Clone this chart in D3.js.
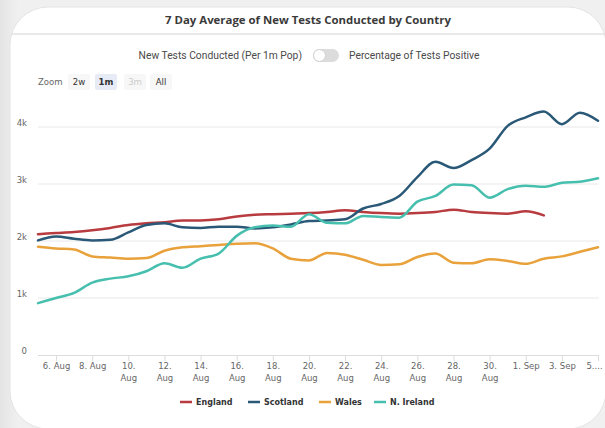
<!DOCTYPE html>
<html>
<head>
<meta charset="utf-8">
<script src="https://cdn.jsdelivr.net/npm/d3@7"></script>
<style>
  body { margin: 0; background: #ececec; }
  svg { display: block; }
</style>
</head>
<body>
<div id="chart"></div>
<script>
// data: 7 day average of new tests per 1m pop, one value per day from 5 Aug 2020
const startDate = '2020-08-05'
const england  = [2120,2140,2160,2190,2230,2280,2310,2330,2360,2360,2380,2430,2460,2470,2480,2490,2510,2540,2510,2490,2480,2490,2510,2550,2510,2490,2480,2520,2450]
const scotland = [2010,2080,2040,2010,2020,2150,2280,2310,2240,2230,2250,2250,2220,2240,2290,2350,2360,2380,2570,2650,2790,3120,3390,3280,3420,3620,4020,4170,4270,4050,4250,4110]
const wales    = [1900,1870,1850,1730,1710,1690,1700,1830,1890,1910,1930,1950,1960,1870,1690,1660,1790,1760,1670,1580,1590,1720,1780,1620,1610,1680,1650,1600,1690,1730,1810,1890]
const nIreland = [910,1000,1090,1270,1340,1380,1470,1610,1530,1690,1780,2090,2240,2270,2250,2470,2320,2310,2440,2420,2410,2690,2790,2990,2980,2760,2910,2970,2950,3020,3040,3100]

const seriesNames  = ['England', 'Scotland', 'Wales', 'N. Ireland']
const seriesColors = ['#b83b40', '#2a5877', '#e9a23b', '#47bfae']
const yTicks = [0, 1000, 2000, 3000, 4000]
const yTickLabels = ['0', '1k', '2k', '3k', '4k']
const xTickDates = ['2020-08-06','2020-08-08','2020-08-10','2020-08-12','2020-08-14','2020-08-16','2020-08-18',
                    '2020-08-20','2020-08-22','2020-08-24','2020-08-26','2020-08-28','2020-08-30','2020-09-01',
                    '2020-09-03','2020-09-05']
const xTickLabels = ['6. Aug','8. Aug','10.|Aug','12.|Aug','14.|Aug','16.|Aug','18.|Aug','20.|Aug','22.|Aug',
                     '24.|Aug','26.|Aug','28.|Aug','30.|Aug','1. Sep','3. Sep','5....']
const zoomButtons = ['2w', '1m', '3m', 'All']

const parseDate = d3.timeParse('%Y-%m-%d')
const day0 = parseDate(startDate)
const toPoints = arr => arr.map((v, i) => ({date: d3.timeDay.offset(day0, i), value: v}))
const allSeries = [england, scotland, wales, nIreland].map((arr, i) => ({
  name: seriesNames[i], color: seriesColors[i], points: toPoints(arr)
}))

const chart = {'width': 605, 'height': 428}
const plot = {'left': 38, 'right': 598, 'bottom': 355}

const svg = d3.select('#chart')
  .append('svg')
    .attr('width', chart.width)
    .attr('height', chart.height)

// card background
const defs = svg.append('defs')
const grad = defs.append('linearGradient').attr('id', 'bg').attr('x1', 0).attr('x2', 1)
grad.append('stop').attr('offset', 0).attr('stop-color', '#e4e4e4')
grad.append('stop').attr('offset', 0.03).attr('stop-color', '#f0f0f0')
grad.append('stop').attr('offset', 1).attr('stop-color', '#f0f0f0')
svg.append('rect').attr('width', chart.width).attr('height', chart.height).attr('fill', 'url(#bg)')
svg.append('rect')
  .attr('x', 10).attr('y', 7)
  .attr('width', 596).attr('height', 422)
  .attr('rx', 38)
  .attr('fill', '#fff')
  .attr('stroke', '#e4e4e4')

// title + separator
svg.append('text')
  .attr('x', 308).attr('y', 24)
  .attr('text-anchor', 'middle')
  .attr('font-family', 'Open Sans, sans-serif')
  .attr('font-weight', 'bold')
  .attr('font-size', '11.4px')
  .attr('fill', '#3a3a3a')
  .text('7 Day Average of New Tests Conducted by Country')
svg.append('line')
  .attr('x1', 12).attr('x2', 605)
  .attr('y1', 34).attr('y2', 34)
  .attr('stroke', '#e2e2e2')
  .attr('stroke-width', 1.5)

// toggle
const toggle = svg.append('g').attr('font-family', 'Roboto, sans-serif').attr('font-size', '10.3px').attr('fill', '#4a4a4a')
toggle.append('text').attr('x', 302).attr('y', 59).attr('text-anchor', 'end').text('New Tests Conducted (Per 1m Pop)')
toggle.append('text').attr('x', 349).attr('y', 59).text('Percentage of Tests Positive')
toggle.append('rect').attr('x', 313).attr('y', 49).attr('width', 26).attr('height', 13).attr('rx', 6.5).attr('fill', '#dcdcdc')
toggle.append('circle').attr('cx', 319.5).attr('cy', 55.5).attr('r', 6).attr('fill', '#fff').attr('stroke', '#d0d0d0')

// zoom buttons
const zoomG = svg.append('g').attr('font-family', 'DejaVu Sans, sans-serif').attr('font-size', '8.5px')
zoomG.append('text').attr('x', 38).attr('y', 85).attr('fill', '#666').text('Zoom')
const btnX = [68, 95, 124, 150]
zoomButtons.forEach((b, i) => {
  const g = zoomG.append('g').attr('transform', `translate(${btnX[i]}, 74)`)
  g.append('rect').attr('width', 22).attr('height', 16).attr('rx', 2)
    .attr('fill', i === 1 ? '#e6ebf5' : '#f7f7f7')
  g.append('text').attr('x', 11).attr('y', 11).attr('text-anchor', 'middle')
    .attr('font-weight', i === 1 ? 'bold' : 'normal')
    .attr('fill', i === 2 ? '#cccccc' : '#333')
    .text(b)
})

// scales (57px per 1k)
const xScale = d3.scaleTime()
  .domain([day0, d3.timeDay.offset(day0, 31)])
  .range([plot.left, plot.right])
const yScale = d3.scaleLinear()
  .domain([0, 1000])
  .range([plot.bottom, plot.bottom - 57])

// gridlines
svg.append('g')
  .selectAll('line')
  .data(yTicks.slice(1))
  .join('line')
    .attr('x1', plot.left).attr('x2', 599)
    .attr('y1', d => yScale(d)).attr('y2', d => yScale(d))
    .attr('stroke', '#e8e8e8')

// y labels
svg.append('g')
  .attr('font-family', 'DejaVu Sans, sans-serif')
  .attr('font-size', '8.5px')
  .attr('fill', '#666')
  .selectAll('text')
  .data(yTicks)
  .join('text')
    .attr('x', 27)
    .attr('y', d => yScale(d) - 1)
    .attr('text-anchor', 'end')
    .text((d, i) => yTickLabels[i])

// x axis
const xAxis = d3.axisBottom(xScale)
  .tickValues(xTickDates.map(parseDate))
  .tickSize(6)
  .tickFormat('')
const bottomAxis = svg.append('g')
  .attr('class', 'axis-x')
  .attr('transform', `translate(0, ${plot.bottom})`)
  .call(xAxis)
bottomAxis.select('.domain').attr('stroke', '#dcdcdc').attr('d', `M${plot.left},0.5H599`)
bottomAxis.selectAll('.tick line').attr('stroke', '#dcdcdc')
bottomAxis.selectAll('.tick').each(function(d, i) {
  const lines = xTickLabels[i].split('|')
  const t = d3.select(this).append('text')
    .attr('fill', '#666')
    .attr('font-family', 'DejaVu Sans, sans-serif')
    .attr('font-size', '8.5px')
    .attr('text-anchor', 'middle')
  lines.forEach((l, j) => t.append('tspan').attr('x', i === xTickLabels.length - 1 ? -4 : 0).attr('y', 14 + j * 12).text(l))
})

// lines
const lineGenerator = d3.line()
  .x(d => xScale(d.date))
  .y(d => yScale(d.value))
  .curve(d3.curveMonotoneX)

svg.append('g')
  .selectAll('path')
  .data(allSeries)
  .join('path')
    .attr('d', d => lineGenerator(d.points))
    .attr('fill', 'none')
    .attr('stroke', d => d.color)
    .attr('stroke-width', 2.5)
    .attr('stroke-linejoin', 'round')
    .attr('stroke-linecap', 'round')

// legend
const legendX = [180, 248, 319, 374]
const legend = svg.append('g')
  .attr('font-family', 'DejaVu Sans, sans-serif')
  .attr('font-size', '8px')
  .attr('font-weight', 'bold')
  .selectAll('g')
  .data(allSeries)
  .join('g')
    .attr('transform', (d, i) => `translate(${legendX[i]}, 402)`)
legend.append('line')
  .attr('x1', 0).attr('x2', 12)
  .attr('stroke', d => d.color)
  .attr('stroke-width', 2.5)
legend.append('text')
  .attr('x', 16).attr('y', 3)
  .attr('fill', '#333')
  .text(d => d.name)
</script>
</body>
</html>
